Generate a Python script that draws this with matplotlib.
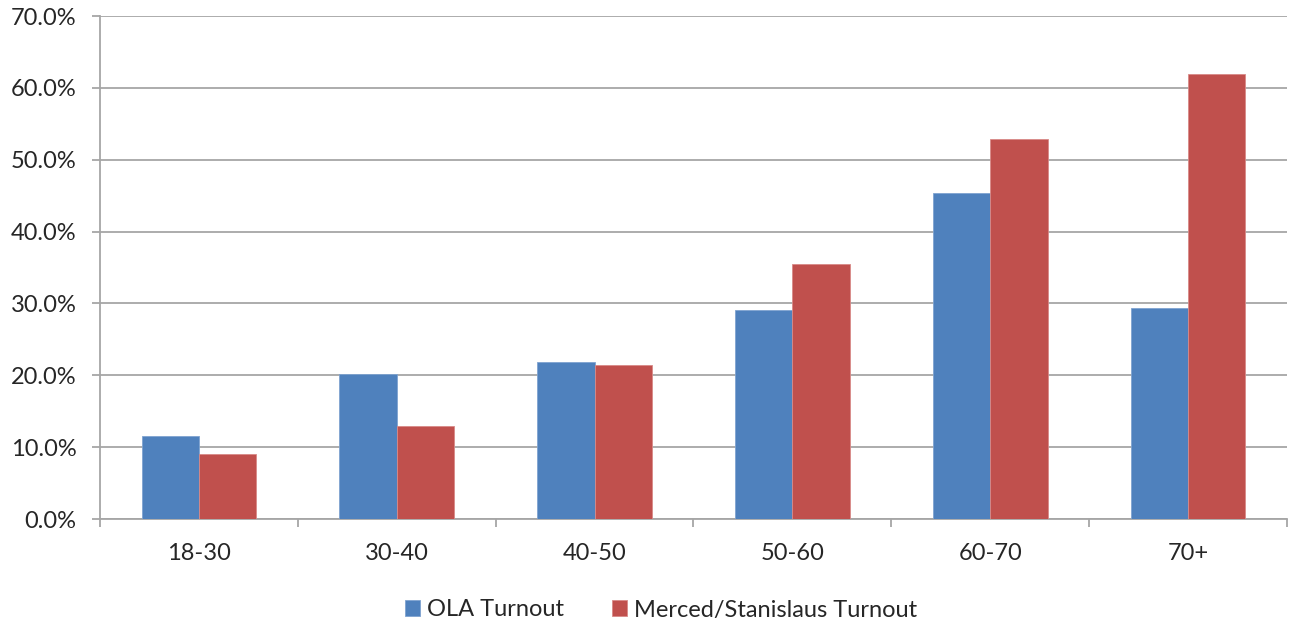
import matplotlib
matplotlib.use("Agg")
import matplotlib.pyplot as plt
import numpy as np
from matplotlib.ticker import FuncFormatter, FixedLocator

categories = ["18-30", "30-40", "40-50", "50-60", "60-70", "70+"]
ola_turnout = [11.6, 20.2, 21.9, 29.1, 45.4, 29.3]
merced_turnout = [9.1, 12.9, 21.4, 35.5, 52.9, 61.9]
series_names = ["OLA Turnout", "Merced/Stanislaus Turnout"]

plt.rcParams['font.family'] = ['Lato', 'DejaVu Sans']

W, H = 1291, 625
fig = plt.figure(figsize=(W / 100, H / 100), dpi=100)
ax = fig.add_axes([100 / W, 1 - 519 / H, (1287 - 100) / W, (519 - 16) / H])

x = np.arange(len(categories))
bw = 0.29
grid_c = "#A6A6A6"
txt_c = "#262626"
fs = 17
ax.bar(x - bw / 2, ola_turnout, bw, color="#4F81BD", edgecolor="#7FA3D0", linewidth=0.6,
       label=series_names[0], zorder=3)
ax.bar(x + bw / 2, merced_turnout, bw, color="#C0504D", edgecolor="#D88A88", linewidth=0.6,
       label=series_names[1], zorder=3)

ax.set_xlim(-0.5, len(categories) - 0.5)
ax.set_ylim(0, 70)
ax.set_yticks(np.arange(0, 71, 10))
ax.yaxis.set_major_formatter(FuncFormatter(lambda v, p: f"{v:.1f}%"))
ax.yaxis.grid(True, color=grid_c, linewidth=1.3, zorder=0)
ax.set_axisbelow(True)

ax.set_xticks(x)
ax.set_xticklabels(categories)
ax.xaxis.set_minor_locator(FixedLocator(np.arange(-0.5, len(categories), 1.0)))
ax.tick_params(axis="x", which="major", length=0, pad=17, labelsize=fs, colors=txt_c)
ax.tick_params(axis="x", which="minor", length=6, width=1.3, color=grid_c, direction="out")
ax.tick_params(axis="y", length=6, width=1.3, color=grid_c, labelsize=fs, labelcolor=txt_c, pad=11)

for s in ["top", "right"]:
    ax.spines[s].set_visible(False)
for s in ["left", "bottom"]:
    ax.spines[s].set_color(grid_c)
    ax.spines[s].set_linewidth(1.3)

leg = fig.legend(loc="center", bbox_to_anchor=(0.512, 1 - 610 / H), ncol=2, frameon=False,
                 fontsize=fs, handlelength=0.65, handleheight=0.65, handletextpad=0.3,
                 columnspacing=2.0)
for t in leg.get_texts():
    t.set_color(txt_c)

fig.savefig("out.png", dpi=100)
